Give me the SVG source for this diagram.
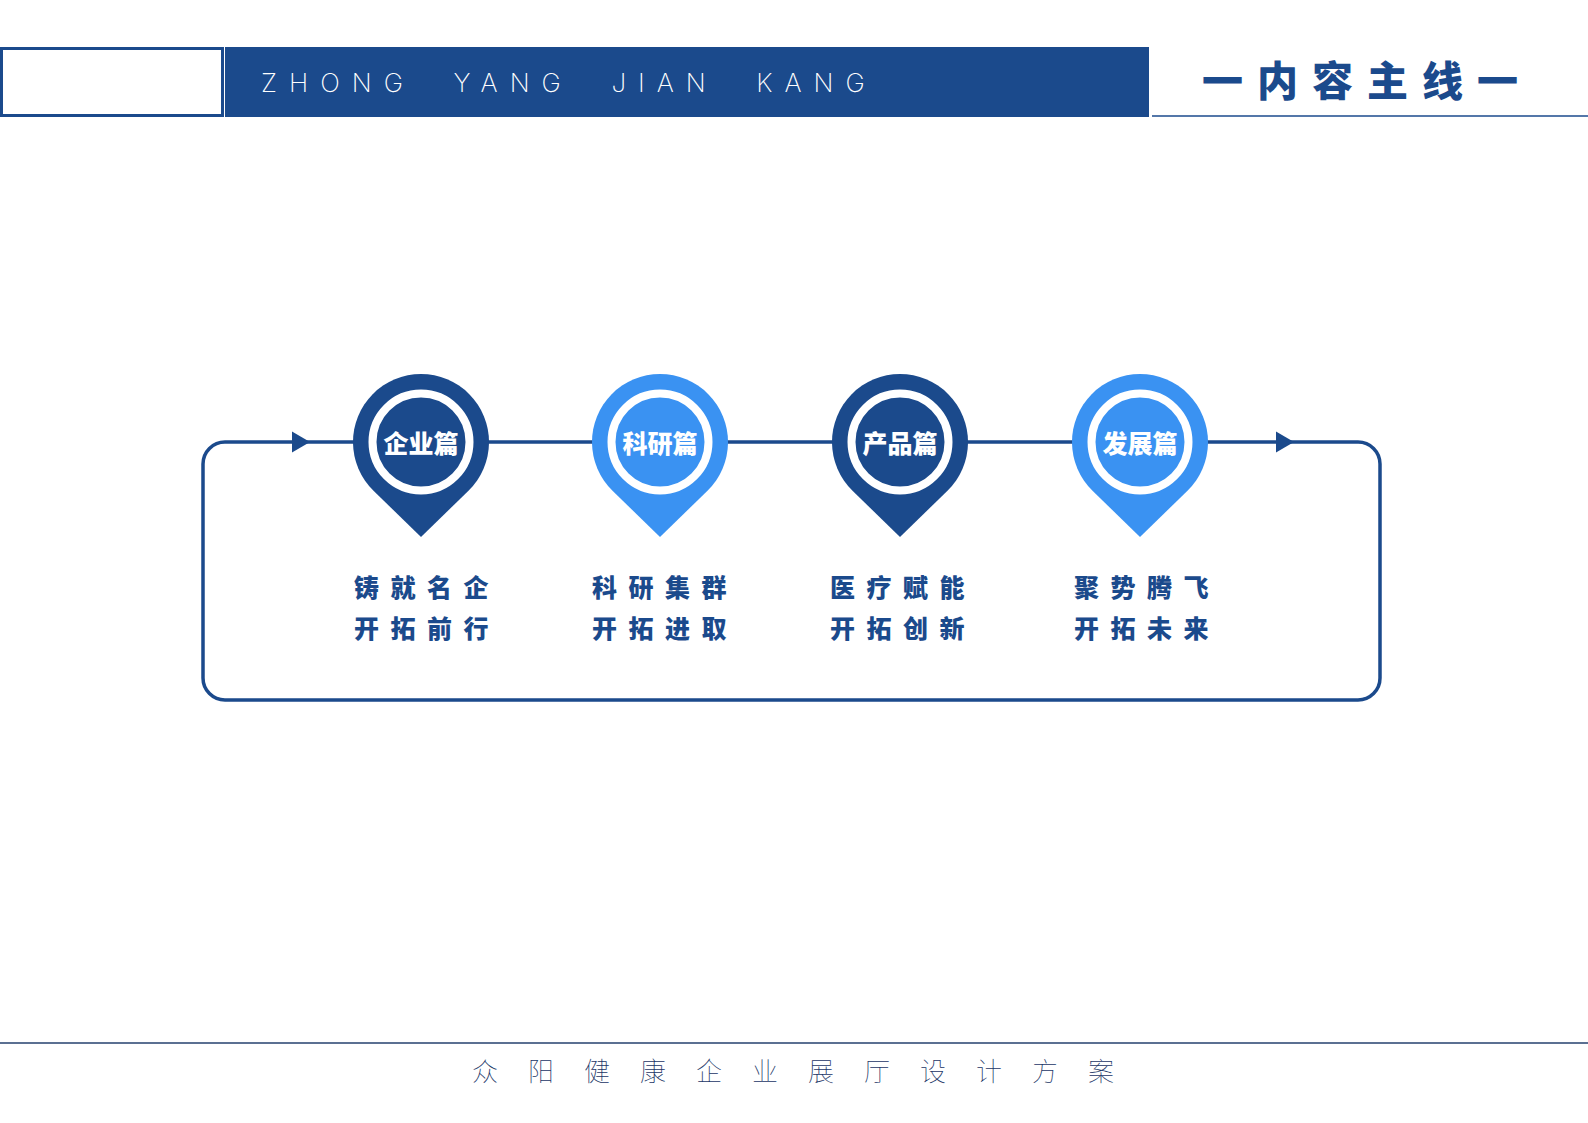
<svg xmlns="http://www.w3.org/2000/svg" width="1588" height="1123" viewBox="0 0 1588 1123">
<style>
.dark{fill:#1b4a8c}
.light{fill:#3a92f2}
.ring{fill:none;stroke:#ffffff;stroke-width:8}
.pintxt{font-family:"Noto Sans CJK SC","Liberation Sans",sans-serif;font-weight:900;font-size:25px;fill:#ffffff;text-anchor:middle;dominant-baseline:central}
.lbl{font-family:"Noto Sans CJK SC","Liberation Sans",sans-serif;font-weight:900;font-size:25px;fill:#1b4a8c;text-anchor:middle;dominant-baseline:central;letter-spacing:11.5px}
.conn{fill:none;stroke:#1b4a8c;stroke-width:3.5}
</style>
<defs>
<path id="pin" d="M0,95 L-47.5,48.7 A68,68 0 1 1 47.5,48.7 Z"/>
</defs>
<rect width="1588" height="1123" fill="#ffffff"/>
<g id="header">
<rect x="1.5" y="48.5" width="221" height="67" fill="#ffffff" stroke="#1b4a8c" stroke-width="3"/>
<rect x="225" y="47" width="924" height="70" fill="#1b4a8c"/>
<text x="261" y="92" xml:space="preserve" font-family="Inter, 'Liberation Sans', sans-serif" font-weight="200" font-size="26" letter-spacing="12" fill="#ffffff">ZHONG  YANG  JIAN  KANG</text>
<line x1="1152" y1="116" x2="1588" y2="116" stroke="#1b4a8c" stroke-width="1.5"/>
<text x="1367" y="78" font-family="'Noto Sans CJK SC', 'Liberation Sans', sans-serif" font-weight="900" font-size="41" letter-spacing="14" fill="#1b4a8c" text-anchor="middle" dominant-baseline="central">一内容主线一</text>
</g>
<g id="connectors">
<path class="conn" d="M225,442 H1358 A22,22 0 0 1 1380,464 V678 A22,22 0 0 1 1358,700 H225 A22,22 0 0 1 203,678 V464 A22,22 0 0 1 225,442 Z"/>
<polygon class="dark" points="292,431.5 310,442 292,452.5"/>
<polygon class="dark" points="1276,431.5 1294,442 1276,452.5"/>
</g>
<g id="node1">
<use href="#pin" class="dark" transform="translate(421,442)"/>
<circle class="ring" cx="421" cy="442" r="48.5"/>
<text class="pintxt" x="421" y="442">企业篇</text>
<text class="lbl" x="427" y="586">铸就名企</text>
<text class="lbl" x="427" y="627">开拓前行</text>
</g>
<g id="node2">
<use href="#pin" class="light" transform="translate(660,442)"/>
<circle class="ring" cx="660" cy="442" r="48.5"/>
<text class="pintxt" x="660" y="442">科研篇</text>
<text class="lbl" x="665" y="586">科研集群</text>
<text class="lbl" x="665" y="627">开拓进取</text>
</g>
<g id="node3">
<use href="#pin" class="dark" transform="translate(900,442)"/>
<circle class="ring" cx="900" cy="442" r="48.5"/>
<text class="pintxt" x="900" y="442">产品篇</text>
<text class="lbl" x="903" y="586">医疗赋能</text>
<text class="lbl" x="903" y="627">开拓创新</text>
</g>
<g id="node4">
<use href="#pin" class="light" transform="translate(1140,442)"/>
<circle class="ring" cx="1140" cy="442" r="48.5"/>
<text class="pintxt" x="1140" y="442">发展篇</text>
<text class="lbl" x="1147" y="586">聚势腾飞</text>
<text class="lbl" x="1147" y="627">开拓未来</text>
</g>
<g id="footer">
<line x1="0" y1="1043" x2="1588" y2="1043" stroke="#24406e" stroke-width="1.5"/>
<text x="808" y="1069" font-family="'Noto Sans CJK SC', 'Liberation Sans', sans-serif" font-weight="100" font-size="26" letter-spacing="30" fill="#1a3566" text-anchor="middle" dominant-baseline="central">众阳健康企业展厅设计方案</text>
</g>
</svg>
